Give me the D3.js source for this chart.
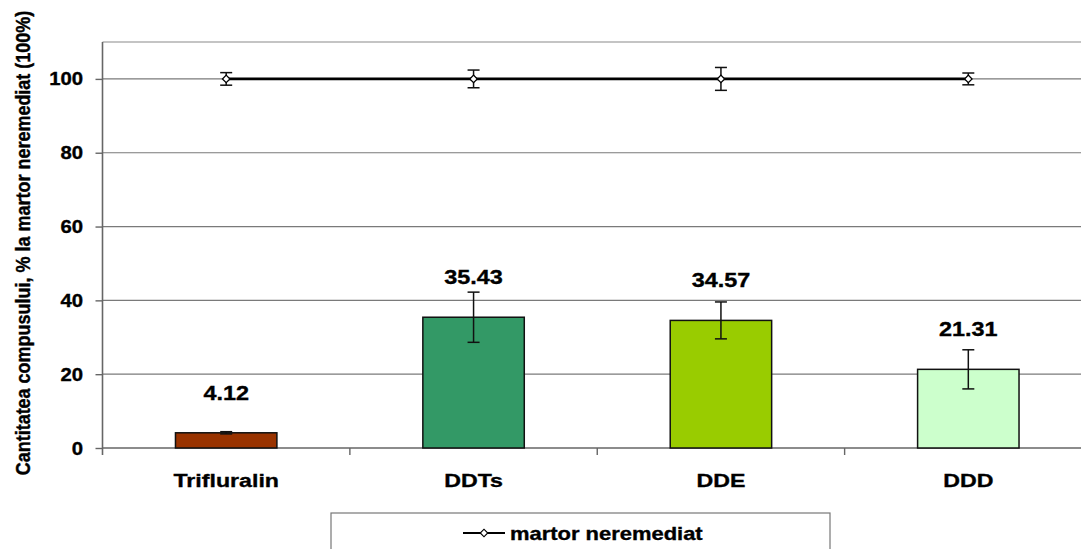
<!DOCTYPE html>
<html>
<head>
<meta charset="utf-8">
<script src="https://cdn.jsdelivr.net/npm/d3@7"></script>
<style>
  html, body { margin: 0; padding: 0; background: #fff; overflow: hidden; }
  text { font-family: "Liberation Sans", Arial, sans-serif; font-weight: bold; fill: #000; stroke: #000; stroke-width: 0.35; }
</style>
</head>
<body>
<svg id="chart" width="1081" height="549"></svg>
<script>
const categories = ["Trifluralin", "DDTs", "DDE", "DDD"];
const barValues = [4.12, 35.43, 34.57, 21.31];
const barErrors = [0.3, 6.8, 5.0, 5.3];
const barColors = ["#993300", "#339966", "#99CC00", "#CCFFCC"];
const controlValues = [100, 100, 100, 100];
const controlErrors = [1.7, 2.4, 3.1, 1.6];
const yTicks = [0, 20, 40, 60, 80, 100];
const seriesName = "martor neremediat";
const yTitle = "Cantitatea compusului, % la martor neremediat (100%)";

const svg = d3.select("#chart");
const pLeft = 102.5, pRight = 1092, pTop = 42, pBottom = 448;

const x = d3.scaleBand().domain(categories).range([pLeft, pRight]).paddingInner(0).paddingOuter(0);
const y = d3.scaleLinear().domain([0, 110]).range([pBottom, pTop]);
const cx = c => x(c) + x.bandwidth() / 2;
const barW = x.bandwidth() * 0.41;

function label(g, px, py, txt, size, anchor, stretch) {
  return g.append("text")
    .attr("transform", `translate(${px},${py}) scale(${stretch},1)`)
    .attr("text-anchor", anchor)
    .attr("font-size", size)
    .text(txt);
}

// gridlines
svg.append("g").selectAll("line").data(yTicks.filter(t => t > 0)).join("line")
  .attr("x1", pLeft).attr("x2", pRight)
  .attr("y1", d => y(d)).attr("y2", d => y(d))
  .attr("stroke", "#7a7a7a").attr("stroke-width", 1.2);
// top border
svg.append("line").attr("x1", pLeft).attr("x2", pRight).attr("y1", y(110)).attr("y2", y(110))
  .attr("stroke", "#8a8a8a").attr("stroke-width", 1.2);

// axes
const yAxis = svg.append("g").attr("transform", `translate(${pLeft},0)`)
  .call(d3.axisLeft(y).tickValues(yTicks).tickSize(7).tickFormat(""));
yAxis.select(".domain").attr("stroke", "#666").attr("stroke-width", 1.6)
  .attr("d", `M0,${pTop}V${pBottom + 7}`);
yAxis.selectAll(".tick line").attr("stroke", "#666").attr("stroke-width", 1.4);
yAxis.selectAll(".tick text").remove();
yTicks.forEach(t => label(svg, 83, y(t) + 6.5, String(t), 17.5, "end", 1.16));

const xAxis = svg.append("g").attr("transform", `translate(0,${pBottom})`)
  .call(d3.axisBottom(x).tickSize(0).tickFormat(""));
xAxis.select(".domain").attr("stroke", "#666").attr("stroke-width", 1.6)
  .attr("d", `M${pLeft},0H${pRight}`);
xAxis.selectAll(".tick").remove();
svg.append("g").selectAll("line").data(categories.slice(1)).join("line")
  .attr("x1", d => x(d)).attr("x2", d => x(d))
  .attr("y1", pBottom).attr("y2", pBottom + 7)
  .attr("stroke", "#666").attr("stroke-width", 1.4);
categories.forEach(c => label(svg, cx(c), 487, c, 19, "middle", 1.22));

// bars
svg.append("g").selectAll("rect").data(categories).join("rect")
  .attr("x", d => cx(d) - barW / 2)
  .attr("width", barW)
  .attr("y", (d, i) => y(barValues[i]))
  .attr("height", (d, i) => y(0) - y(barValues[i]))
  .attr("fill", (d, i) => barColors[i])
  .attr("stroke", "#111").attr("stroke-width", 1.5);

// error bars helper
function errBars(vals, errs, cap) {
  const g = svg.append("g").attr("stroke", "#111").attr("stroke-width", 1.5);
  categories.forEach((c, i) => {
    const xc = cx(c), y1 = y(vals[i] + errs[i]), y2 = y(vals[i] - errs[i]);
    g.append("line").attr("x1", xc).attr("x2", xc).attr("y1", y1).attr("y2", y2);
    g.append("line").attr("x1", xc - cap).attr("x2", xc + cap).attr("y1", y1).attr("y2", y1);
    g.append("line").attr("x1", xc - cap).attr("x2", xc + cap).attr("y1", y2).attr("y2", y2);
  });
}
errBars(barValues, barErrors, 6);

// value labels
categories.forEach((c, i) => label(svg, cx(c), y(barValues[i]) - 33, barValues[i].toFixed(2), 19.5, "middle", 1.2));

// control line
const line = d3.line().x((d, i) => cx(categories[i])).y(d => y(d));
svg.append("path").datum(controlValues).attr("d", line)
  .attr("fill", "none").attr("stroke", "#000").attr("stroke-width", 2.6);
errBars(controlValues, controlErrors, 6);
svg.append("g").selectAll("path").data(controlValues).join("path")
  .attr("d", d3.symbol().type(d3.symbolSquare).size(28))
  .attr("transform", (d, i) => `translate(${cx(categories[i])},${y(d)}) rotate(45)`)
  .attr("fill", "#fff").attr("stroke", "#000").attr("stroke-width", 1.3);

// y title
svg.append("text")
  .attr("transform", "translate(30,243) rotate(-90) scale(1,1.15)")
  .attr("text-anchor", "middle").attr("font-size", 18)
  .text(yTitle);

// legend
const lg = svg.append("g");
lg.append("rect").attr("x", 331).attr("y", 513).attr("width", 499).attr("height", 60)
  .attr("fill", "#fff").attr("stroke", "#777").attr("stroke-width", 1.2);
lg.append("line").attr("x1", 463).attr("x2", 505).attr("y1", 533).attr("y2", 533)
  .attr("stroke", "#000").attr("stroke-width", 2);
lg.append("path").attr("d", d3.symbol().type(d3.symbolSquare).size(28))
  .attr("transform", "translate(484,533) rotate(45)")
  .attr("fill", "#fff").attr("stroke", "#000").attr("stroke-width", 1.2);
label(lg, 510, 540, seriesName, 18, "start", 1.22);
</script>
</body>
</html>
